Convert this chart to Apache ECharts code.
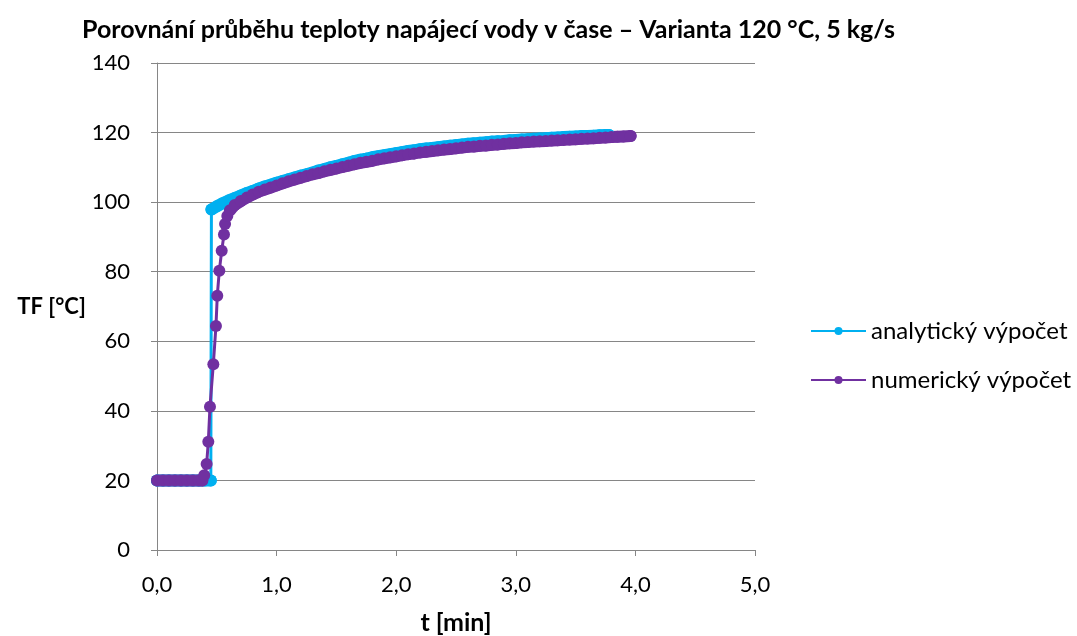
<!DOCTYPE html>
<html>
<head>
<meta charset="utf-8">
<script src="https://cdn.jsdelivr.net/npm/echarts@6/dist/echarts.min.js"></script>
<style>
  html, body { margin: 0; padding: 0; background: #fff; }
  #main { width: 1077px; height: 636px; }
</style>
</head>
<body>
<div id="main"></div>
<script>
var chartDom = document.getElementById('main');
var myChart = echarts.init(chartDom);
var option;

const analyticColor = '#00B0F0';
const numericColor = '#7030A0';
const fontName = 'Lato';

// time [min] and feed water temperature [°C]
const analyticT = [0, 0.05, 0.1, 0.15, 0.2, 0.25, 0.3, 0.35, 0.4, 0.45,
  0.455, 0.5, 0.55, 0.6, 0.65, 0.7, 0.75, 0.8, 0.85, 0.9, 0.95,
  1.0, 1.05, 1.1, 1.15, 1.2, 1.25, 1.3, 1.35, 1.4, 1.45, 1.5, 1.55, 1.6, 1.65, 1.7, 1.75, 1.8, 1.85, 1.9, 1.95,
  2.0, 2.05, 2.1, 2.15, 2.2, 2.25, 2.3, 2.35, 2.4, 2.45, 2.5, 2.55, 2.6, 2.65, 2.7, 2.75, 2.8, 2.85, 2.9, 2.95,
  3.0, 3.05, 3.1, 3.15, 3.2, 3.25, 3.3, 3.35, 3.4, 3.45, 3.5, 3.55, 3.6, 3.65, 3.7, 3.75, 3.78];
const analyticTF = [20, 20, 20, 20, 20, 20, 20, 20, 20, 20,
  97.9, 98.8, 99.7, 100.5, 101.2, 101.9, 102.6, 103.2, 103.9, 104.5, 105.0,
  105.6, 106.1, 106.6, 107.1, 107.6, 108.0, 108.5, 109.1, 109.5, 110.0, 110.4, 110.9, 111.3, 111.8, 112.2, 112.5, 112.9, 113.2, 113.5, 113.8,
  114.1, 114.4, 114.7, 114.9, 115.2, 115.4, 115.6, 115.8, 116.0, 116.2, 116.4, 116.6, 116.8, 116.9, 117.1, 117.2, 117.4, 117.5, 117.6, 117.8,
  117.9, 118.0, 118.1, 118.2, 118.3, 118.4, 118.5, 118.6, 118.7, 118.8, 118.9, 119.0, 119.0, 119.1, 119.2, 119.3, 119.3];

const numericT = [0, 0.05, 0.1, 0.15, 0.2, 0.25, 0.3, 0.35, 0.38, 0.395,
  0.415, 0.429, 0.443, 0.471, 0.493, 0.504, 0.521, 0.541, 0.56, 0.569, 0.588, 0.61,
  0.65, 0.7, 0.75, 0.8, 0.85, 0.9, 0.95,
  1.0, 1.05, 1.1, 1.15, 1.2, 1.25, 1.3, 1.35, 1.4, 1.45, 1.5, 1.55, 1.6, 1.65, 1.7, 1.75, 1.8, 1.85, 1.9, 1.95,
  2.0, 2.05, 2.1, 2.15, 2.2, 2.25, 2.3, 2.35, 2.4, 2.45, 2.5, 2.55, 2.6, 2.65, 2.7, 2.75, 2.8, 2.85, 2.9, 2.95,
  3.0, 3.05, 3.1, 3.15, 3.2, 3.25, 3.3, 3.35, 3.4, 3.45, 3.5, 3.55, 3.6, 3.65, 3.7, 3.75, 3.8, 3.85, 3.9, 3.96];
const numericTF = [20, 20, 20, 20, 20, 20, 20, 20, 20, 21.5,
  24.7, 31.1, 41.2, 53.4, 64.4, 73.1, 80.3, 86.0, 90.7, 93.7, 96.0, 97.7,
  99.2, 100.3, 101.3, 102.2, 103.0, 103.6, 104.2,
  104.8, 105.4, 106.0, 106.5, 107.0, 107.5, 108.0, 108.4, 108.9, 109.3, 109.7, 110.1, 110.5, 110.9, 111.3, 111.6, 111.9, 112.3, 112.6, 112.9,
  113.2, 113.5, 113.8, 114.0, 114.3, 114.5, 114.7, 114.9, 115.1, 115.3, 115.5, 115.7, 115.9, 116.0, 116.2, 116.3, 116.5, 116.6, 116.8, 116.9,
  117.0, 117.2, 117.3, 117.4, 117.5, 117.6, 117.7, 117.8, 117.9, 118.0, 118.1, 118.2, 118.3, 118.4, 118.5, 118.6, 118.7, 118.8, 118.9, 119.0];

function pairs(xs, ys) {
    return xs.map((x, i) => [x, ys[i]]);
}

const analyticData = pairs(analyticT, analyticTF);
const numericData = pairs(numericT, numericTF);

// the original was sampled so densely that its markers merge into a thick band;
// a wide line over the densely sampled stretches gives the same look
function band(name, color, data) {
    return {
        name: name,
        type: 'line',
        data: data,
        symbol: 'none',
        lineStyle: { color: color, width: 12, cap: 'round', join: 'round' },
        itemStyle: { color: color }
    };
}

option = {
    animation: false,
    backgroundColor: '#fff',
    textStyle: { fontFamily: fontName },
    title: {
        text: 'Porovnání průběhu teploty napájecí vody v čase – Varianta 120 °C, 5 kg/s',
        left: 77,
        top: 12,
        textStyle: { fontFamily: fontName, fontSize: 25, fontWeight: 'bold', color: '#000' }
    },
    legend: {
        orient: 'vertical',
        left: 805,
        top: 314,
        itemWidth: 55,
        itemHeight: 10,
        itemGap: 25,
        textStyle: { fontFamily: fontName, fontSize: 24, color: '#000' },
        data: ['analytický výpočet', 'numerický výpočet']
    },
    grid: {
        left: 157,
        right: 322,
        top: 63,
        bottom: 86,
        outerBoundsMode: 'none'
    },
    xAxis: {
        type: 'value',
        min: 0,
        max: 5,
        interval: 1,
        name: 't [min]',
        nameLocation: 'middle',
        nameGap: 60,
        nameTextStyle: { fontFamily: fontName, fontSize: 25, fontWeight: 'bold', color: '#000' },
        axisLine: { lineStyle: { color: '#868686', width: 1 } },
        axisTick: { show: true, length: 6, lineStyle: { color: '#868686' } },
        axisLabel: {
            margin: 24,
            fontFamily: fontName,
            fontSize: 22,
            color: '#000',
            formatter: v => v.toFixed(1).replace('.', ',')
        },
        splitLine: { show: false }
    },
    yAxis: {
        type: 'value',
        min: 0,
        max: 140,
        interval: 20,
        name: 'TF [°C]',
        nameLocation: 'middle',
        nameRotate: 0,
        nameGap: 65,
        nameTextStyle: { fontFamily: fontName, fontSize: 22, fontWeight: 'bold', color: '#000', align: 'right' },
        axisLine: { show: true, lineStyle: { color: '#868686', width: 1 } },
        axisTick: { show: true, length: 6, lineStyle: { color: '#868686' } },
        axisLabel: { margin: 27, fontFamily: fontName, fontSize: 22, color: '#000' },
        splitLine: { show: true, lineStyle: { color: '#868686', width: 1 } }
    },
    series: [
        {
            name: 'analytický výpočet',
            type: 'line',
            data: analyticData,
            symbol: 'circle',
            symbolSize: 12,
            showAllSymbol: true,
            lineStyle: { color: analyticColor, width: 3 },
            itemStyle: { color: analyticColor }
        },
        band('analytický výpočet', analyticColor, analyticData.slice(0, 10)),
        band('analytický výpočet', analyticColor, analyticData.slice(10)),
        {
            name: 'numerický výpočet',
            type: 'line',
            data: numericData,
            symbol: 'circle',
            symbolSize: 12,
            showAllSymbol: true,
            lineStyle: { color: numericColor, width: 3 },
            itemStyle: { color: numericColor }
        },
        band('numerický výpočet', numericColor, numericData.slice(0, 9)),
        band('numerický výpočet', numericColor, numericData.slice(21))
    ]
};

option && myChart.setOption(option);
</script>
</body>
</html>
